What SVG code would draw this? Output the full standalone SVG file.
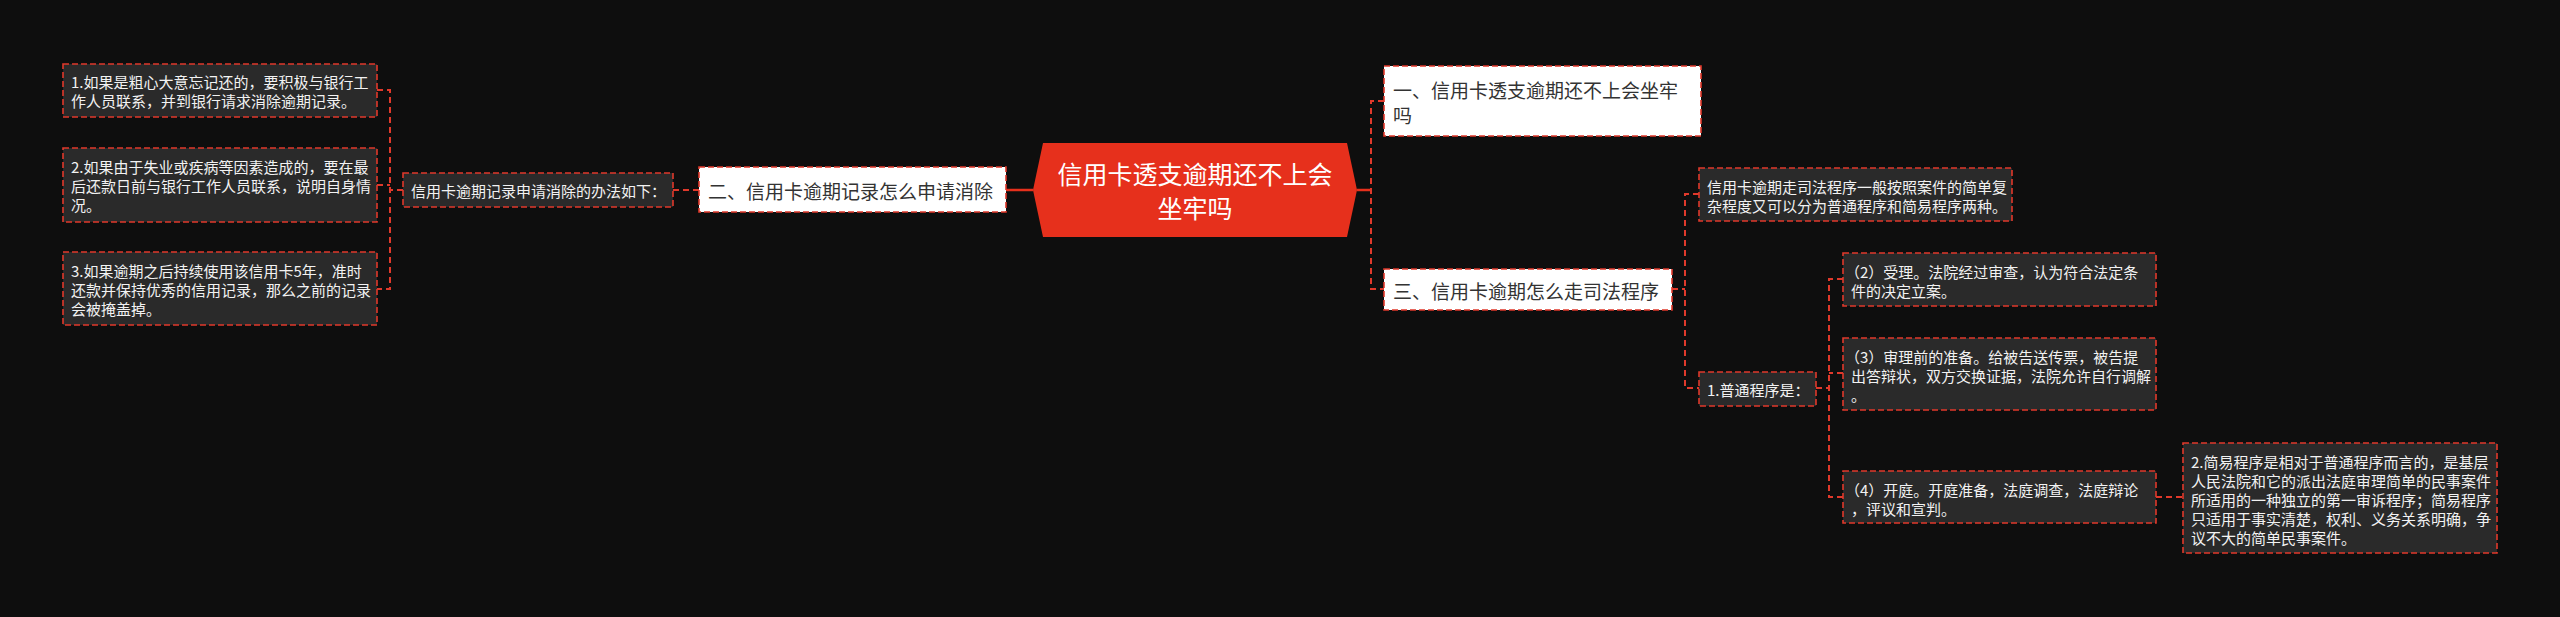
<svg xmlns="http://www.w3.org/2000/svg" width="2560" height="617" viewBox="0 0 2560 617">
<defs>
<style>
.bg{fill:#0e0e0e}
.dk{fill:#2a2a2a;stroke:#e0392b;stroke-width:1.6;stroke-dasharray:6 3}
.wt{fill:#ffffff;stroke:#e0392b;stroke-width:1.6;stroke-dasharray:6 3}
.c{fill:none;stroke:#e0392b;stroke-width:2;stroke-dasharray:6 4}
.cs{fill:none;stroke:#e6301c;stroke-width:2.5}
text{font-family:"Noto Sans CJK SC","Noto Sans",sans-serif;dominant-baseline:central}
.t15{font-size:15px;fill:#f2f2f2}
.t19{font-size:19px;fill:#333333}
.t25{font-size:25px;fill:#ffffff}
</style>
</defs>
<rect class="bg" x="0" y="0" width="2560" height="617"/>
<g id="connectors">
<path class="cs" d="M1033 190 H1006"/>
<path class="cs" d="M1357 190 H1371"/>
<path class="c" d="M699 190 H673"/>
<path class="c" d="M403 190 H390"/>
<path class="c" d="M377 90 H390 V289 H377"/>
<path class="c" d="M377 185 H390"/>
<path class="c" d="M1384 101 H1371 V289 H1384"/>
<path class="c" d="M1672 289 H1685"/>
<path class="c" d="M1699 194 H1685 V388 H1699"/>
<path class="c" d="M1816 388 H1829"/>
<path class="c" d="M1843 279 H1829 V497 H1843"/>
<path class="c" d="M1843 373 H1829"/>
<path class="c" d="M2156 497 H2183"/>
</g>
<g id="center">
<polygon points="1033,190 1043,143 1347,143 1357,190 1347,237 1043,237" fill="#e6301c"/>
<text class="t25" x="1195" y="173" text-anchor="middle">信用卡透支逾期还不上会</text>
<text class="t25" x="1195" y="207" text-anchor="middle">坐牢吗</text>
</g>
<g id="n2">
<rect class="wt" x="699" y="167" width="307" height="45"/>
<text class="t19" x="708" y="190">二、信用卡逾期记录怎么申请消除</text>
</g>
<g id="n2a">
<rect class="dk" x="403" y="173" width="270" height="34"/>
<text class="t15" x="411" y="190">信用卡逾期记录申请消除的办法如下：</text>
</g>
<g id="n2a1">
<rect class="dk" x="63" y="64" width="314" height="53"/>
<text class="t15" x="71" y="81">1.如果是粗心大意忘记还的，要积极与银行工</text>
<text class="t15" x="71" y="100">作人员联系，并到银行请求消除逾期记录。</text>
</g>
<g id="n2a2">
<rect class="dk" x="63" y="148" width="314" height="74"/>
<text class="t15" x="71" y="166">2.如果由于失业或疾病等因素造成的，要在最</text>
<text class="t15" x="71" y="185">后还款日前与银行工作人员联系，说明自身情</text>
<text class="t15" x="71" y="204">况。</text>
</g>
<g id="n2a3">
<rect class="dk" x="63" y="252" width="314" height="73"/>
<text class="t15" x="71" y="270">3.如果逾期之后持续使用该信用卡5年，准时</text>
<text class="t15" x="71" y="289">还款并保持优秀的信用记录，那么之前的记录</text>
<text class="t15" x="71" y="308">会被掩盖掉。</text>
</g>
<g id="n1">
<rect class="wt" x="1384" y="66" width="317" height="70"/>
<text class="t19" x="1393" y="89">一、信用卡透支逾期还不上会坐牢</text>
<text class="t19" x="1393" y="114">吗</text>
</g>
<g id="n3">
<rect class="wt" x="1384" y="269" width="288" height="41"/>
<text class="t19" x="1393" y="290">三、信用卡逾期怎么走司法程序</text>
</g>
<g id="n3a">
<rect class="dk" x="1699" y="168" width="313" height="53"/>
<text class="t15" x="1707" y="186">信用卡逾期走司法程序一般按照案件的简单复</text>
<text class="t15" x="1707" y="205">杂程度又可以分为普通程序和简易程序两种。</text>
</g>
<g id="n3b">
<rect class="dk" x="1699" y="372" width="117" height="34"/>
<text class="t15" x="1707" y="389">1.普通程序是：</text>
</g>
<g id="n3b2">
<rect class="dk" x="1843" y="253" width="313" height="53"/>
<text class="t15" x="1845" y="271">（2）受理。法院经过审查，认为符合法定条</text>
<text class="t15" x="1851" y="290">件的决定立案。</text>
</g>
<g id="n3b3">
<rect class="dk" x="1843" y="338" width="313" height="72"/>
<text class="t15" x="1845" y="356">（3）审理前的准备。给被告送传票，被告提</text>
<text class="t15" x="1851" y="375">出答辩状，双方交换证据，法院允许自行调解</text>
<text class="t15" x="1851" y="394">。</text>
</g>
<g id="n3b4">
<rect class="dk" x="1843" y="471" width="313" height="52"/>
<text class="t15" x="1845" y="489">（4）开庭。开庭准备，法庭调查，法庭辩论</text>
<text class="t15" x="1851" y="508">，评议和宣判。</text>
</g>
<g id="n3b4a">
<rect class="dk" x="2183" y="443" width="314" height="110"/>
<text class="t15" x="2191" y="461">2.简易程序是相对于普通程序而言的，是基层</text>
<text class="t15" x="2191" y="480">人民法院和它的派出法庭审理简单的民事案件</text>
<text class="t15" x="2191" y="499">所适用的一种独立的第一审诉程序；简易程序</text>
<text class="t15" x="2191" y="518">只适用于事实清楚，权利、义务关系明确，争</text>
<text class="t15" x="2191" y="537">议不大的简单民事案件。</text>
</g>
</svg>
